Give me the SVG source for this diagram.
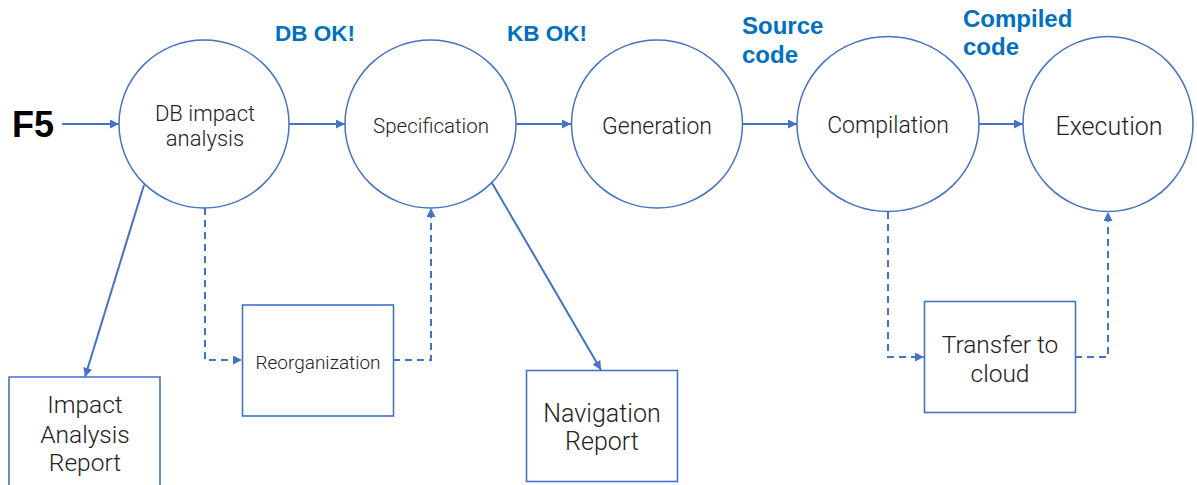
<svg xmlns="http://www.w3.org/2000/svg" width="1197" height="485" viewBox="0 0 1197 485">
<defs>
<marker id="arr" viewBox="0 0 10 10" refX="10" refY="5" markerWidth="10" markerHeight="9" markerUnits="userSpaceOnUse" orient="auto">
<path d="M0,0 L10,5 L0,10 Z" fill="#4472C4"/>
</marker>
</defs>
<style>
.node{fill:#fff;stroke:#4472C4;stroke-width:1.5}
.box{fill:#fff;stroke:#4472C4;stroke-width:1.6}
.t{font-family:Roboto,"Liberation Sans",sans-serif;font-weight:300;fill:#222;text-anchor:middle}
.lbl{font-family:"Liberation Sans",Arial,sans-serif;font-weight:bold;fill:#0070C0;font-size:24px}
.c{fill:none;stroke:#4472C4;stroke-width:2;marker-end:url(#arr)}
.d{stroke-dasharray:7 5}
</style>
<rect width="1197" height="485" fill="#fff"/>
<text x="12" y="137" font-family="Liberation Sans,Arial,sans-serif" font-weight="bold" font-size="36" fill="#000">F5</text>
<g id="labels">
<text class="lbl" x="275" y="40.7" style="font-size:22.5px">DB OK!</text>
<text class="lbl" x="507" y="40.7" style="font-size:22.5px">KB OK!</text>
<text class="lbl" x="742" y="34.3">Source</text>
<text class="lbl" x="742" y="63.3">code</text>
<text class="lbl" x="963" y="27.3">Compiled</text>
<text class="lbl" x="963" y="55">code</text>
</g>
<g id="connectors">
<path class="c" d="M62,124 H119"/>
<path class="c" d="M289,124 H345"/>
<path class="c" d="M516,124 H571"/>
<path class="c" d="M742,124 H797"/>
<path class="c" d="M979,124 H1023"/>
<path class="c" d="M144,185 L85,377"/>
<path class="c" d="M492,183 L601,370"/>
<path class="c d" d="M205,208 V360 H242"/>
<path class="c d" d="M393,360 H431 V208"/>
<path class="c d" d="M888,212 V357 H924"/>
<path class="c d" d="M1075,357 H1108 V212"/>
</g>
<g id="n-dbimpact">
<ellipse class="node" cx="204" cy="124" rx="85" ry="84"/>
<text class="t" x="205" y="121" font-size="22">DB impact</text>
<text class="t" x="205" y="146" font-size="22">analysis</text>
</g>
<g id="n-spec">
<ellipse class="node" cx="430.5" cy="124" rx="85.5" ry="84"/>
<text class="t" x="431" y="133.3" font-size="20.5">Specification</text>
</g>
<g id="n-gen">
<ellipse class="node" cx="657" cy="124" rx="85.5" ry="84"/>
<text class="t" x="657" y="134" font-size="23">Generation</text>
</g>
<g id="n-comp">
<ellipse class="node" cx="888" cy="124" rx="91" ry="87.5"/>
<text class="t" x="888" y="133.3" font-size="23">Compilation</text>
</g>
<g id="n-exec">
<ellipse class="node" cx="1108" cy="124" rx="85" ry="87.5"/>
<text class="t" x="1109" y="135" font-size="25">Execution</text>
</g>
<g id="n-iar">
<path class="box" d="M9,490 V377 H160 V490"/>
<text class="t" x="85" y="413.3" font-size="24.5">Impact</text>
<text class="t" x="85" y="442.7" font-size="24.5">Analysis</text>
<text class="t" x="85" y="471" font-size="24.5">Report</text>
</g>
<g id="n-reorg">
<rect class="box" x="242.5" y="305" width="151" height="111"/>
<text class="t" x="318" y="369" font-size="19">Reorganization</text>
</g>
<g id="n-nav">
<rect class="box" x="526.5" y="370.5" width="151" height="111"/>
<text class="t" x="602" y="421.7" font-size="25">Navigation</text>
<text class="t" x="602" y="450" font-size="25">Report</text>
</g>
<g id="n-transfer">
<rect class="box" x="924.5" y="301.5" width="151" height="111"/>
<text class="t" x="1000" y="353.3" font-size="24.5">Transfer to</text>
<text class="t" x="1000" y="381.7" font-size="24.5">cloud</text>
</g>
</svg>
